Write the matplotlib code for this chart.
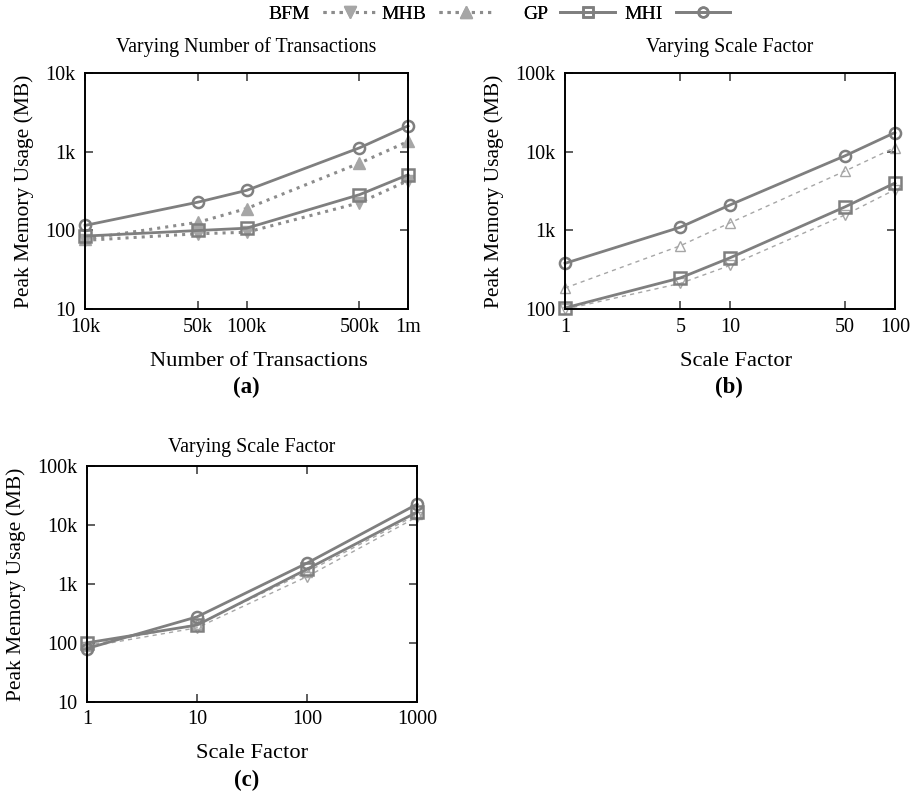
import matplotlib
matplotlib.use("Agg")
import matplotlib.pyplot as plt
from matplotlib.lines import Line2D

plt.rcParams['font.family'] = ['Liberation Serif', 'DejaVu Serif']

# (a) varying number of transactions
tx_x = [1e4, 5e4, 1e5, 5e5, 1e6]
tx_labels = ['10k', '50k', '100k', '500k', '1m']
tx_bfm = [75, 91, 95, 225, 430]
tx_mhb = [78, 127, 190, 716, 1350]
tx_gp = [85, 100, 107, 285, 510]
tx_mhi = [116, 229, 323, 1120, 2130]

# (b) varying scale factor
sf_x = [1, 5, 10, 50, 100]
sf_labels = ['1', '5', '10', '50', '100']
sf_bfm = [100, 213, 360, 1580, 3300]
sf_mhb = [186, 640, 1250, 5700, 11300]
sf_gp = [104, 250, 450, 2000, 4000]
sf_mhi = [383, 1100, 2110, 8900, 17500]

# (c) varying scale factor, larger range
sf2_x = [1, 10, 100, 1000]
sf2_labels = ['1', '10', '100', '1000']
sf2_bfm = [85, 180, 1330, 13700]
sf2_mhb = [90, 205, 1600, 15000]
sf2_gp = [100, 200, 1780, 16500]
sf2_mhi = [80, 276, 2250, 22500]

series_names = ['BFM', 'MHB', 'GP', 'MHI']

DARK = '#7f7f7f'
LIGHT = '#a6a6a6'

fig = plt.figure(figsize=(9.15, 7.93), dpi=100)


def setup(ax, xticks, xlabels, ylim, yticks, ylabels, title, xlabel, tpad, xlab_x):
    ax.set_xscale('log')
    ax.set_yscale('log')
    ax.set_xlim(xticks[0], xticks[-1])
    ax.set_ylim(*ylim)
    ax.set_xticks(xticks)
    ax.set_xticklabels(xlabels)
    ax.set_yticks(yticks)
    ax.set_yticklabels(ylabels)
    ax.minorticks_off()
    ax.tick_params(direction='in', length=6, width=1.1, top=True, right=True,
                   labelsize=14.5, color='#333333')
    ax.tick_params(axis='x', pad=6)
    ax.tick_params(axis='y', pad=7)
    for s in ax.spines.values():
        s.set_linewidth(1.4)
    ax.set_title(title, fontsize=14.3, pad=tpad)
    ax.set_xlabel(xlabel, fontsize=16.2, labelpad=11)
    ax.xaxis.label.set_x(xlab_x)
    ax.set_ylabel('Peak Memory Usage (MB)', fontsize=15.5, labelpad=8)


def draw(ax, x, bfm, mhb, gp, mhi, filled):
    if filled:
        ax.plot(x, bfm, ls=':', lw=2.2, color='#8c8c8c', marker='v', ms=8,
                mfc=LIGHT, mec=LIGHT, clip_on=False)
        ax.plot(x, mhb, ls=':', lw=2.2, color='#8c8c8c', marker='^', ms=8,
                mfc=LIGHT, mec=LIGHT, clip_on=False)
    else:
        ax.plot(x, bfm, ls=(0, (3, 3)), lw=1.0, color=LIGHT, marker='v', ms=7,
                mfc='none', mec=LIGHT, mew=1.0, clip_on=False)
        ax.plot(x, mhb, ls=(0, (3, 3)), lw=1.0, color=LIGHT, marker='^', ms=7,
                mfc='none', mec=LIGHT, mew=1.0, clip_on=False)
    ax.plot(x, gp, ls='-', lw=2.0, color=DARK, marker='s', ms=8,
            mfc='none', mec=DARK, mew=1.8, clip_on=False)
    ax.plot(x, mhi, ls='-', lw=2.0, color=DARK, marker='o', ms=8,
            mfc='none', mec=DARK, mew=1.8, clip_on=False)


ax_a = fig.add_axes([0.093, 0.610, 0.353, 0.298])
draw(ax_a, tx_x, tx_bfm, tx_mhb, tx_gp, tx_mhi, True)
setup(ax_a, tx_x, tx_labels, (10, 10000), [10, 100, 1000, 10000],
      ['10', '100', '1k', '10k'], 'Varying Number of Transactions',
      'Number of Transactions', 15, 0.537)

ax_b = fig.add_axes([0.6175, 0.610, 0.3605, 0.298])
draw(ax_b, sf_x, sf_bfm, sf_mhb, sf_gp, sf_mhi, False)
setup(ax_b, sf_x, sf_labels, (100, 100000), [100, 1000, 10000, 100000],
      ['100', '1k', '10k', '100k'], 'Varying Scale Factor', 'Scale Factor', 15, 0.518)

ax_c = fig.add_axes([0.095, 0.115, 0.361, 0.2975])
draw(ax_c, sf2_x, sf2_bfm, sf2_mhb, sf2_gp, sf2_mhi, False)
setup(ax_c, sf2_x, sf2_labels, (10, 100000), [10, 100, 1000, 10000, 100000],
      ['10', '100', '1k', '10k', '100k'], 'Varying Scale Factor', 'Scale Factor', 10, 0.5)

fig.text(0.269, 0.511, '(a)', ha='center', va='center', fontsize=16.5, fontweight='bold')
fig.text(0.797, 0.511, '(b)', ha='center', va='center', fontsize=16.5, fontweight='bold')
fig.text(0.269, 0.016, '(c)', ha='center', va='center', fontsize=16.5, fontweight='bold')

# gnuplot-style key: right-aligned label followed by the sample
handles = [
    Line2D([], [], ls=':', lw=2.2, color='#8c8c8c', marker='v', ms=8, mfc=LIGHT, mec=LIGHT),
    Line2D([], [], ls=':', lw=2.2, color='#8c8c8c', marker='^', ms=8, mfc=LIGHT, mec=LIGHT),
    Line2D([], [], ls='-', lw=2.0, color=DARK, marker='s', ms=7, mfc='none', mec=DARK, mew=1.8),
    Line2D([], [], ls='-', lw=2.0, color=DARK, marker='o', ms=7, mfc='none', mec=DARK, mew=1.8),
]
key_right = [0.412, 0.539, 0.672, 0.798]
for h, name, xr in zip(handles, series_names, key_right):
    leg = fig.legend([h], [name], loc='center right', bbox_to_anchor=(xr, 0.982),
                     frameon=False, markerfirst=False, numpoints=1,
                     handlelength=2.8, handletextpad=0.65, borderpad=0,
                     borderaxespad=0, fontsize=14)
    fig.add_artist(leg)

fig.savefig('out.png', dpi=100)
